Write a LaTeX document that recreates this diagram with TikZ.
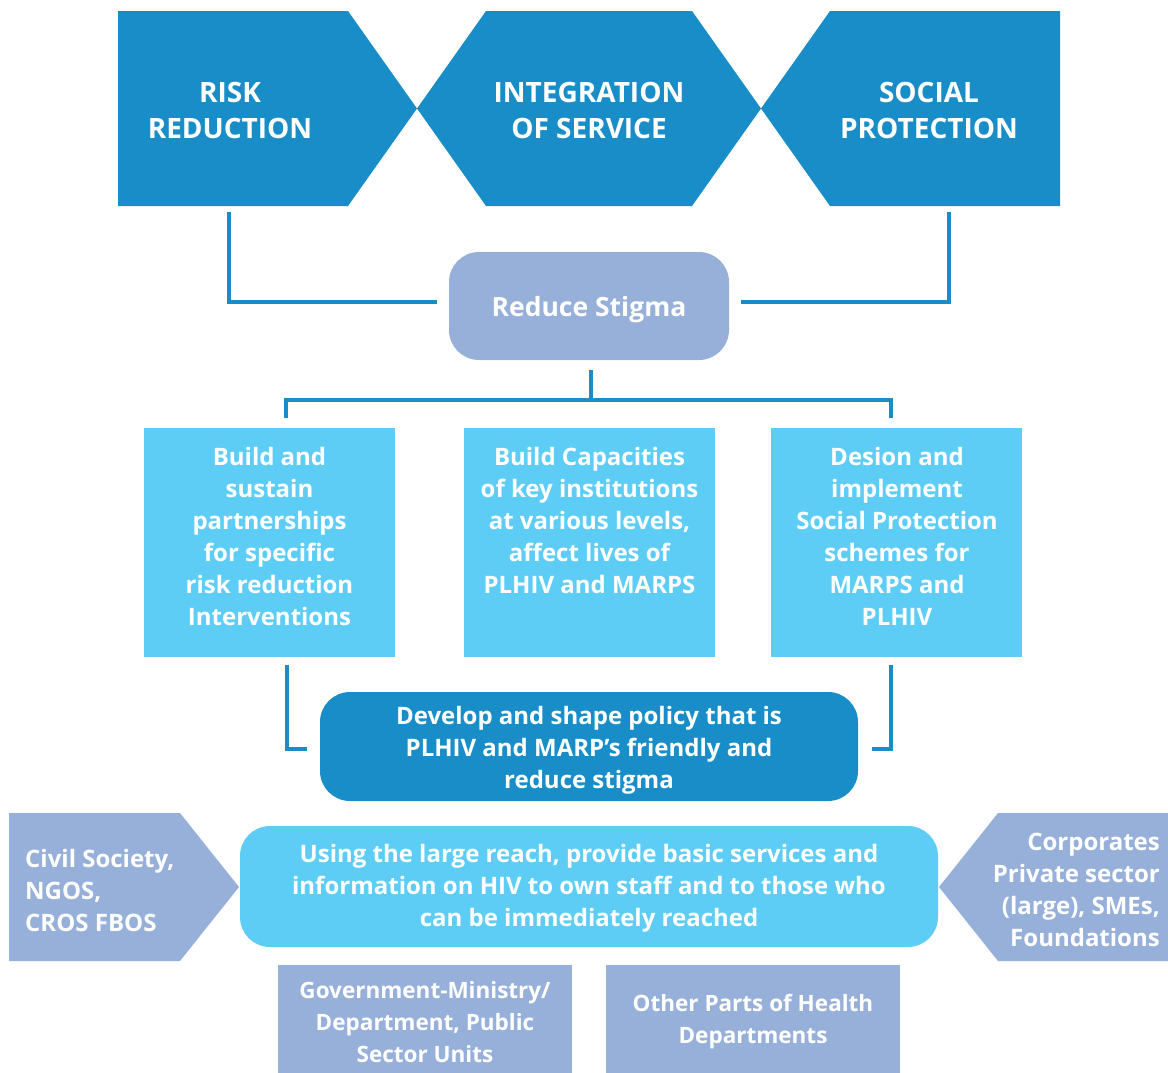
\documentclass[tikz,border=0pt]{standalone}
\usepackage{fontspec}
\setmainfont{Open Sans}
\usetikzlibrary{calc}
\definecolor{dblue}{HTML}{188DC8}
\definecolor{lblue}{HTML}{5ECDF6}
\definecolor{lav}{HTML}{97B0DA}
\begin{document}
\begin{tikzpicture}[x=1pt,y=-1pt,
  conn/.style={draw=dblue,line width=4.5pt,line join=miter},
  title/.style={text=white,font=\bfseries\fontsize{28}{36}\selectfont,align=center,inner sep=0pt},
  body/.style={text=white,font=\bfseries\fontsize{24}{32}\selectfont,align=center,inner sep=0pt},
  small/.style={text=white,font=\bfseries\fontsize{22.5}{32}\selectfont,align=center,inner sep=0pt},
  sqbox/.style={fill=#1,draw=none,inner sep=0pt},
  rbox/.style={fill=#1,draw=none,inner sep=0pt,rounded corners=30pt}]
\useasboundingbox (0,0) rectangle (1168,1072);
\clip (0,0) rectangle (1168,1072);
% top chevrons
\fill[dblue] (118,11) -- (348,11) -- (417,108.5) -- (348,206) -- (118,206) -- cycle;
\fill[dblue] (486,11) -- (692,11) -- (761,108.5) -- (692,206) -- (486,206) -- (417,108.5) -- cycle;
\fill[dblue] (830,11) -- (1060,11) -- (1060,206) -- (830,206) -- (761,108.5) -- cycle;
\node[title] (risk) at (230,110) {RISK\\REDUCTION};
\node[title] (integ) at (589,110) {INTEGRATION\\OF SERVICE};
\node[title] (social) at (929,110) {SOCIAL\\PROTECTION};
% reduce stigma
\node[rbox=lav,minimum width=280pt,minimum height=108pt] (stigma) at (589,306) {};
\node[body,font=\bfseries\fontsize{26.5}{32}\selectfont] (stigmat) at (589,310) {Reduce Stigma};
\coordinate (a1) at (229,212);
\coordinate (a2) at (949,212);
\draw[conn] (a1) |- ([xshift=-12pt,yshift=4pt]stigma.west);
\draw[conn] (a2) |- ([xshift=12pt,yshift=4pt]stigma.east);
% three boxes
\node[sqbox=lblue,minimum width=251pt,minimum height=229pt] (b1) at (269.5,542.5) {};
\node[sqbox=lblue,minimum width=251pt,minimum height=229pt] (b2) at (589.5,542.5) {};
\node[sqbox=lblue,minimum width=251pt,minimum height=229pt] (b3) at (896.5,542.5) {};
\node[body] (t1) at (269.5,536) {Build and\\sustain\\partnerships\\for specific\\risk reduction\\Interventions};
\node[body] (t2) at (589.5,520) {Build Capacities\\of key institutions\\at various levels,\\affect lives of\\PLHIV and MARPS};
\node[body] (t3) at (897,536) {Desion and\\implement\\Social Protection\\schemes for\\MARPS and\\PLHIV};
\coordinate (hub) at (591,400);
\coordinate (j1) at (286,418);
\coordinate (j3) at (891,418);
\draw[conn] ([yshift=-10pt]stigma.south -| hub) -- (hub);
\draw[conn] (j1) |- (hub) -| (j3);
% policy box
\node[rbox=dblue,minimum width=538pt,minimum height=109pt] (policy) at (589,746.5) {};
\node[body] (policyt) at (589,750) {Develop and shape policy that is\\PLHIV and MARP’s friendly and\\reduce stigma};
\coordinate (k1) at (287,665);
\coordinate (k1e) at (307,749);
\coordinate (k3) at (891,665);
\coordinate (k3e) at (872,749);
\draw[conn] (k1) |- (k1e);
\draw[conn] (k3) |- (k3e);
% using box
\node[rbox=lblue,minimum width=698pt,minimum height=121pt] (using) at (589,886.5) {};
\node[body] (usingt) at (589,888) {Using the large reach, provide basic services and\\information on HIV to own staff and to those who\\can be immediately reached};
% side pentagons
\fill[lav] (9,813) -- (180,813) -- (239,887) -- (180,961) -- (9,961) -- cycle;
\node[body,align=left,anchor=west] (civil) at (25,890) {Civil Society,\\NGOS,\\CROS FBOS};
\fill[lav] (1168,813) -- (998,813) -- (939,887) -- (998,961) -- (1168,961) -- cycle;
\node[body,align=right,anchor=east] (corp) at (1160,890) {Corporates\\Private sector\\(large), SMEs,\\Foundations};
% bottom boxes
\node[sqbox=lav,minimum width=294pt,minimum height=115pt] (gov) at (425,1022.5) {};
\node[small] (govt) at (425,1022) {Government-Ministry/\\Department, Public\\Sector Units};
\node[sqbox=lav,minimum width=294pt,minimum height=115pt] (other) at (753,1022.5) {};
\node[small] (othert) at (753,1022) {Other Parts of Health\\Departments};
\end{tikzpicture}
\end{document}
